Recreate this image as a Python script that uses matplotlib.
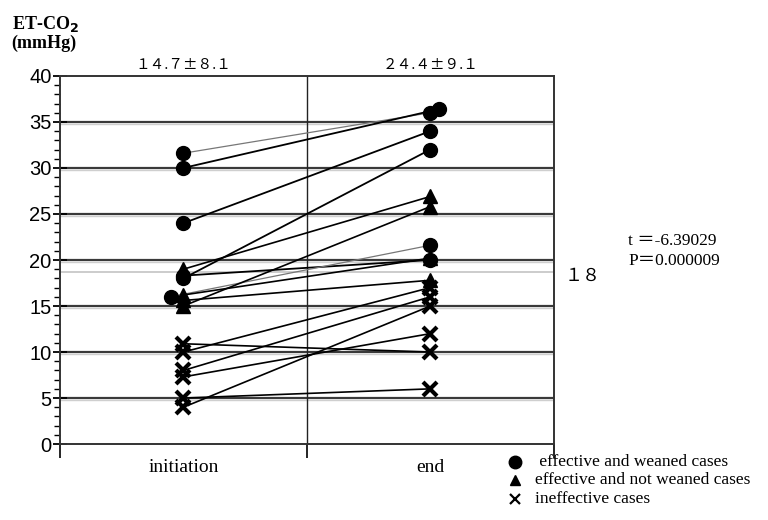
import numpy as np
import matplotlib
matplotlib.use('Agg')
import matplotlib.pyplot as plt
from matplotlib.ticker import MultipleLocator

# ET-CO2 at initiation and at end, per case group
circ_start = [31.6, 30.0, 24.0, 18.0, 18.3, 16.0]
circ_end = [36.0, 36.4, 34.0, 32.0, 20.0, 21.6]
circ_thin = [True, False, False, False, False, True]
tri_start = [19.0, 15.0, 15.6, 16.2]
tri_end = [26.9, 25.8, 17.8, 20.2]
cross_start = [10.9, 10.0, 8.0, 7.3, 5.0, 4.0]
cross_end = [10.0, 17.0, 16.0, 12.0, 6.0, 15.0]

groups = ['initiation', 'end']
group_stats = ['１４.７±８.１', '２４.４±９.１']
ref_value = 18.7
ref_label = '１８'
t_text = 't ＝-6.39029'
p_text = 'P＝0.000009'
legend_labels = [' effective and weaned cases', 'effective and not weaned cases', 'ineffective cases']

xs, xe = 0.5, 1.5

fig = plt.figure(figsize=(7.68, 5.2), dpi=100)
ax = fig.add_axes([0.078, 0.146, 0.643, 0.708])
ax.set_xlim(0, 2)
ax.set_ylim(0, 40)

# horizontal grid (dark line with a faint shadow below, like the scan)
for v in range(5, 40, 5):
    ax.axhline(v - 0.25, color='#cfcfcf', lw=1.0, zorder=1)
    ax.axhline(v, color='#3a3a3a', lw=1.6, zorder=1)
ax.axhline(ref_value, color='#c8c8c8', lw=1.3, zorder=1)
ax.axvline(1, color='#222222', lw=1.0, zorder=1)

serif = ['Liberation Serif', 'DejaVu Serif']
cjk = ['Noto Sans CJK JP', 'DejaVu Sans']

# circles
dx_s = [0, 0, 0, 0, 0, -0.052]
dx_e = [0, 0.036, 0, 0, 0, 0]
for a, b, thin, ds, de in zip(circ_start, circ_end, circ_thin, dx_s, dx_e):
    ax.plot([xs + ds, xe + de], [a, b], color='#777777' if thin else 'black',
            lw=0.9 if thin else 1.3, zorder=2)
    ax.plot([xs + ds, xe + de], [a, b], 'o', color='black', ms=10, zorder=3)

for a, b in zip(tri_start, tri_end):
    ax.plot([xs, xe], [a, b], color='black', lw=1.2, zorder=2)
    ax.plot([xs, xe], [a, b], '^', color='black', ms=9.5, zorder=3)

for a, b in zip(cross_start, cross_end):
    ax.plot([xs, xe], [a, b], color='black', lw=1.2, zorder=2)
    ax.plot([xs, xe], [a, b], 'x', color='black', ms=10, mew=3.0, zorder=3)

# axes styling
for s in ax.spines.values():
    s.set_color('#333333')
    s.set_linewidth(1.4)
ax.yaxis.set_major_locator(MultipleLocator(5))
ax.yaxis.set_minor_locator(MultipleLocator(1))
ax.tick_params(axis='y', which='major', direction='inout', length=10, width=1.3,
               labelsize=14.5, pad=1)
ax.tick_params(axis='y', which='minor', direction='out', length=4, width=1.0)
for lab in ax.get_yticklabels():
    lab.set_family(['Liberation Sans', 'DejaVu Sans'])
ax.set_xticks([0, 1, 2])
ax.set_xticklabels([])
ax.tick_params(axis='x', direction='out', length=10, width=1.2)

for x, name, st in zip([xs, xe], groups, group_stats):
    ax.text(x, -1.6, name, ha='center', va='top', fontsize=14, family=serif)
    ax.text(x, 40.4, st, ha='center', va='bottom', fontsize=10.5, family=cjk)

ax.text(2.045, ref_value - 0.4, ref_label, ha='left', va='center', fontsize=13, family=cjk)

fig.text(0.015, 0.944, 'ET-CO$_\\mathbf{2}$', fontsize=13, fontweight='bold', family=serif,
         va='baseline')
fig.text(0.015, 0.908, '(mmHg)', fontsize=13, fontweight='bold', family=serif, va='baseline')

fig.text(0.818, 0.528, t_text, fontsize=12.5, family=['Liberation Serif', 'Noto Sans CJK JP'])
fig.text(0.818, 0.490, p_text, fontsize=12.5, family=['Liberation Serif', 'Noto Sans CJK JP'])

# legend drawn by hand
leg_y = [0.112, 0.076, 0.040]
for y, m, lab in zip(leg_y, ['o', '^', 'x'], legend_labels):
    kw = dict(mew=1.6) if m == 'x' else {}
    fig.lines.append(plt.Line2D([0.670], [y], marker=m, color='black',
                                ms=9 if m == 'o' else 7.5, transform=fig.transFigure, **kw))
    fig.text(0.697, y, lab, fontsize=12.5, family=serif, va='center')

fig.savefig('out.png', dpi=100)
